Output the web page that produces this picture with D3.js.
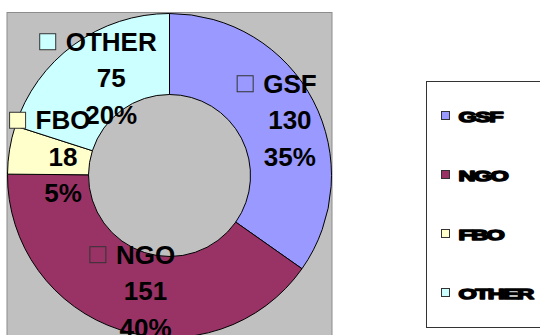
<!DOCTYPE html>
<html>
<head>
<meta charset="utf-8">
<script src="https://cdn.jsdelivr.net/npm/d3@7"></script>
<style>
  html, body { margin: 0; padding: 0; background: #ffffff; }
  svg { display: block; }
</style>
</head>
<body>
<svg id="chart" width="540" height="335"></svg>
<script>
// ---- data ----
const categories = ["GSF", "NGO", "FBO", "OTHER"];
const values = [130, 151, 18, 75];
const colors = ["#9999FF", "#993366", "#FFFFCC", "#CCFFFF"];

// ---- layout ----
const W = 540, H = 335;
const plot = { x: 7, y: 12.5, w: 325, h: 340 };
const cx = 169.5, cy = 175.5;
const rOuter = 162, rInner = 81, rLabel = 121;

const svg = d3.select("#chart");

// plot area
svg.append("rect")
  .attr("x", plot.x).attr("y", plot.y)
  .attr("width", plot.w).attr("height", plot.h)
  .attr("fill", "#C0C0C0")
  .attr("stroke", "#8c8c8c").attr("stroke-width", 1);

const total = d3.sum(values);
const pct = d3.format(".0%");
const data = categories.map((c, i) => ({ name: c, value: values[i], color: colors[i] }));

const pie = d3.pie().sort(null).value(d => d.value);
const arcs = pie(data);
const arc = d3.arc().innerRadius(rInner).outerRadius(rOuter);
const labelArc = d3.arc().innerRadius(rLabel).outerRadius(rLabel);

const g = svg.append("g").attr("transform", `translate(${cx},${cy})`);

g.selectAll("path.slice")
  .data(arcs)
  .join("path")
  .attr("class", "slice")
  .attr("d", arc)
  .attr("fill", d => d.data.color)
  .attr("stroke", "#000")
  .attr("stroke-width", 1);

// data labels
const fontSize = 26, lineH = 36.5, sq = 16, gap = 10;
g.selectAll("g.lbl")
  .data(arcs)
  .join("g")
  .attr("class", "lbl")
  .each(function(d) {
    const [lx, ly] = labelArc.centroid(d);
    const tx = lx + (sq + gap) / 2;
    const base = ly + 9.5;
    const sel = d3.select(this);
    const lines = [d.data.name, String(d.data.value), pct(d.data.value / total)];
    const texts = sel.selectAll("text")
      .data(lines)
      .join("text")
      .attr("x", tx)
      .attr("y", (t, i) => base + (i - 1) * lineH)
      .attr("text-anchor", "middle")
      .attr("font-family", "'Liberation Sans', Arial, sans-serif")
      .attr("font-weight", "bold")
      .attr("font-size", fontSize)
      .attr("fill", "#000")
      .text(t => t);
    const w = texts.nodes()[0].getComputedTextLength();
    sel.insert("rect", "text")
      .attr("x", tx - w / 2 - gap - sq)
      .attr("y", base - lineH - 17)
      .attr("width", sq).attr("height", sq)
      .attr("fill", d.data.color)
      .attr("stroke", "#333")
      .attr("stroke-width", 1);
  });

// legend
const legend = { x: 426, y: 81, w: 130, h: 246 };
svg.append("rect")
  .attr("x", legend.x + 0.5).attr("y", legend.y + 0.5)
  .attr("width", legend.w).attr("height", legend.h)
  .attr("fill", "#fff")
  .attr("stroke", "#333").attr("stroke-width", 1);

const ly = d3.scalePoint().domain(categories).range([117, 294]);

const items = svg.selectAll("g.leg")
  .data(data)
  .join("g")
  .attr("class", "leg")
  .attr("transform", d => `translate(0,${ly(d.name)})`);

items.append("rect")
  .attr("x", 441.5).attr("y", -5.5)
  .attr("width", 8).attr("height", 8)
  .attr("fill", d => d.color)
  .attr("stroke", "#333").attr("stroke-width", 1);

items.append("text")
  .attr("transform", "translate(458.5,5) scale(1.62,1)")
  .attr("font-family", "'Liberation Sans', Arial, sans-serif")
  .attr("font-weight", "bold")
  .attr("font-size", 14.5)
  .attr("letter-spacing", -1)
  .attr("fill", "#000")
  .attr("stroke", "#000")
  .attr("stroke-width", 1.4)
  .attr("stroke-linejoin", "round")
  .text(d => d.name);
</script>
</body>
</html>
